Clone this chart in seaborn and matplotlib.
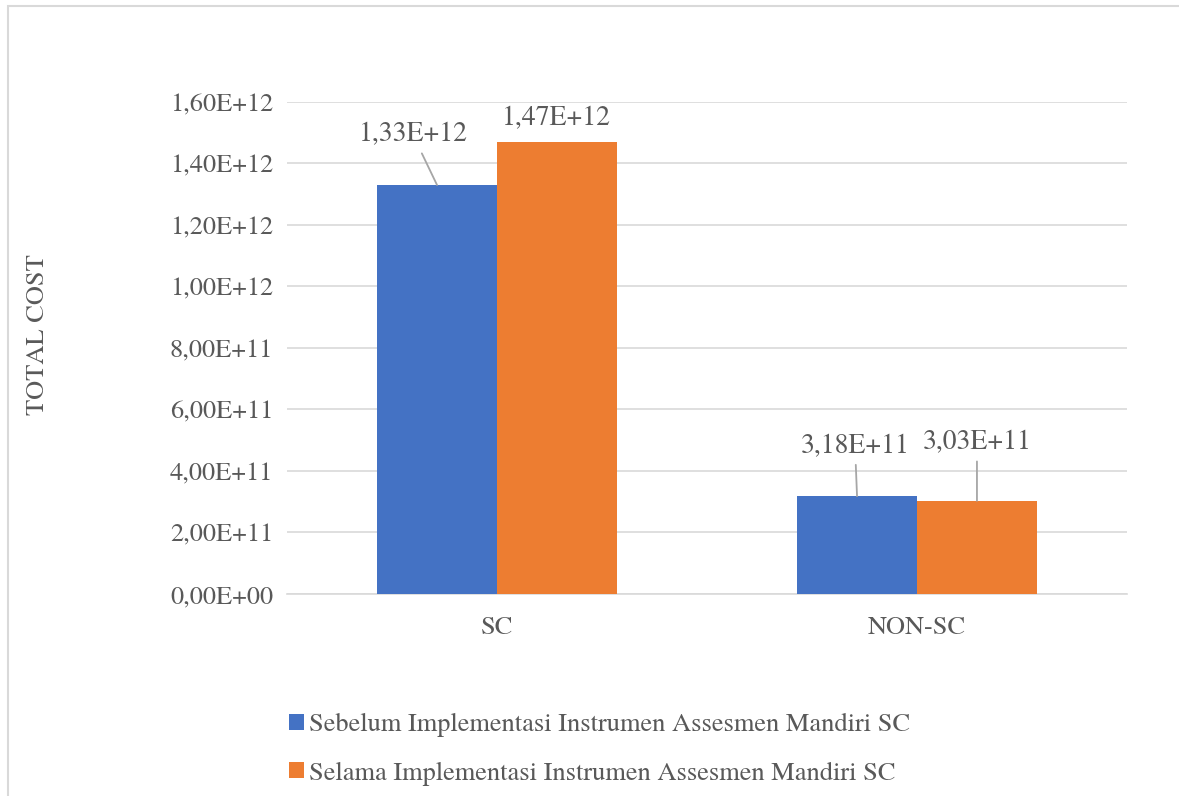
import matplotlib
matplotlib.use("Agg")
import matplotlib.pyplot as plt
from matplotlib.patches import Patch, Rectangle
from matplotlib.ticker import FuncFormatter, MultipleLocator
import seaborn as sns
import pandas as pd

# Data
categories = ["SC", "NON-SC"]
series_names = [
    "Sebelum Implementasi Instrumen Assesmen Mandiri SC",
    "Selama Implementasi Instrumen Assesmen Mandiri SC",
]
sebelum = [1.33e12, 3.18e11]
selama = [1.47e12, 3.03e11]
colors = ["#4472C4", "#ED7D31"]

df = pd.DataFrame({
    "kategori": categories * 2,
    "seri": [series_names[0]] * 2 + [series_names[1]] * 2,
    "nilai": sebelum + selama,
})

sns.set_theme(style="white")
plt.rcParams["font.family"] = ["TeX Gyre Termes", "STIXGeneral", "Liberation Serif", "DejaVu Serif"]
text_color = "#595959"
grid_color = "#D9D9D9"

fig = plt.figure(figsize=(11.79, 7.96), dpi=100)
ax = fig.add_axes([0.2434, 0.2538, 0.7125, 0.6181])

sns.barplot(data=df, x="kategori", y="nilai", hue="seri", order=categories,
            hue_order=series_names, palette=colors, width=0.571,
            linewidth=0, saturation=1, legend=False, ax=ax, zorder=3)

def sci_comma(v, pos=None):
    return f"{v:.2E}".replace(".", ",")

ax.set_ylim(0, 1.6e12)
ax.yaxis.set_major_locator(MultipleLocator(2e11))
ax.yaxis.set_major_formatter(FuncFormatter(sci_comma))
ax.grid(axis="y", color=grid_color, linewidth=1.2, zorder=0)
ax.set_axisbelow(True)
for s in ["top", "right", "left"]:
    ax.spines[s].set_visible(False)
ax.spines["bottom"].set_color(grid_color)
ax.spines["bottom"].set_linewidth(1.2)
ax.tick_params(axis="y", length=0, pad=10, labelsize=19, labelcolor=text_color)
ax.tick_params(axis="x", length=0, pad=16, labelsize=19, labelcolor=text_color)
ax.set_xlabel("")
ax.set_ylabel("")

# Data labels with leader lines (offsets in pixels)
offsets = {
    (0, 0): (-24, 50),
    (0, 1): (0, 23),
    (1, 0): (-2, 50),
    (1, 1): (0, 58),
}
bars = ax.patches
values = [sebelum, selama]
for si in range(2):
    for ci in range(2):
        bar = bars[si * 2 + ci]
        v = values[si][ci]
        xc = bar.get_x() + bar.get_width() / 2
        dx, dy = offsets[(ci, si)]
        lead = dy > 30
        ax.annotate(sci_comma(v), xy=(xc, v), xytext=(dx, dy),
                    textcoords="offset pixels", ha="center", va="center",
                    fontsize=20, color=text_color,
                    arrowprops=dict(arrowstyle="-", color="#A6A6A6", lw=1.3,
                                    shrinkA=2, shrinkB=0) if lead else None)

fig.text(38 / 1179, 1 - 335 / 796, "TOTAL COST", rotation=90,
         ha="center", va="center", fontsize=19, color=text_color)

handles = [Patch(facecolor=c, edgecolor="none") for c in colors]
fig.legend(handles, series_names, loc="upper left",
           bbox_to_anchor=(268 / 1179, 1 - 692 / 796), frameon=False,
           fontsize=19, labelcolor=text_color, handlelength=0.55,
           handleheight=0.55, handletextpad=0.2, labelspacing=0.92,
           borderpad=0.3)

# Chart area border
fig.patches.append(Rectangle((8 / 1179, -0.05), 1.2, 1 - 6 / 796 + 0.05,
                             transform=fig.transFigure, fill=False,
                             edgecolor=grid_color, linewidth=1.5))

fig.savefig("out.png", dpi=100, facecolor="white")
